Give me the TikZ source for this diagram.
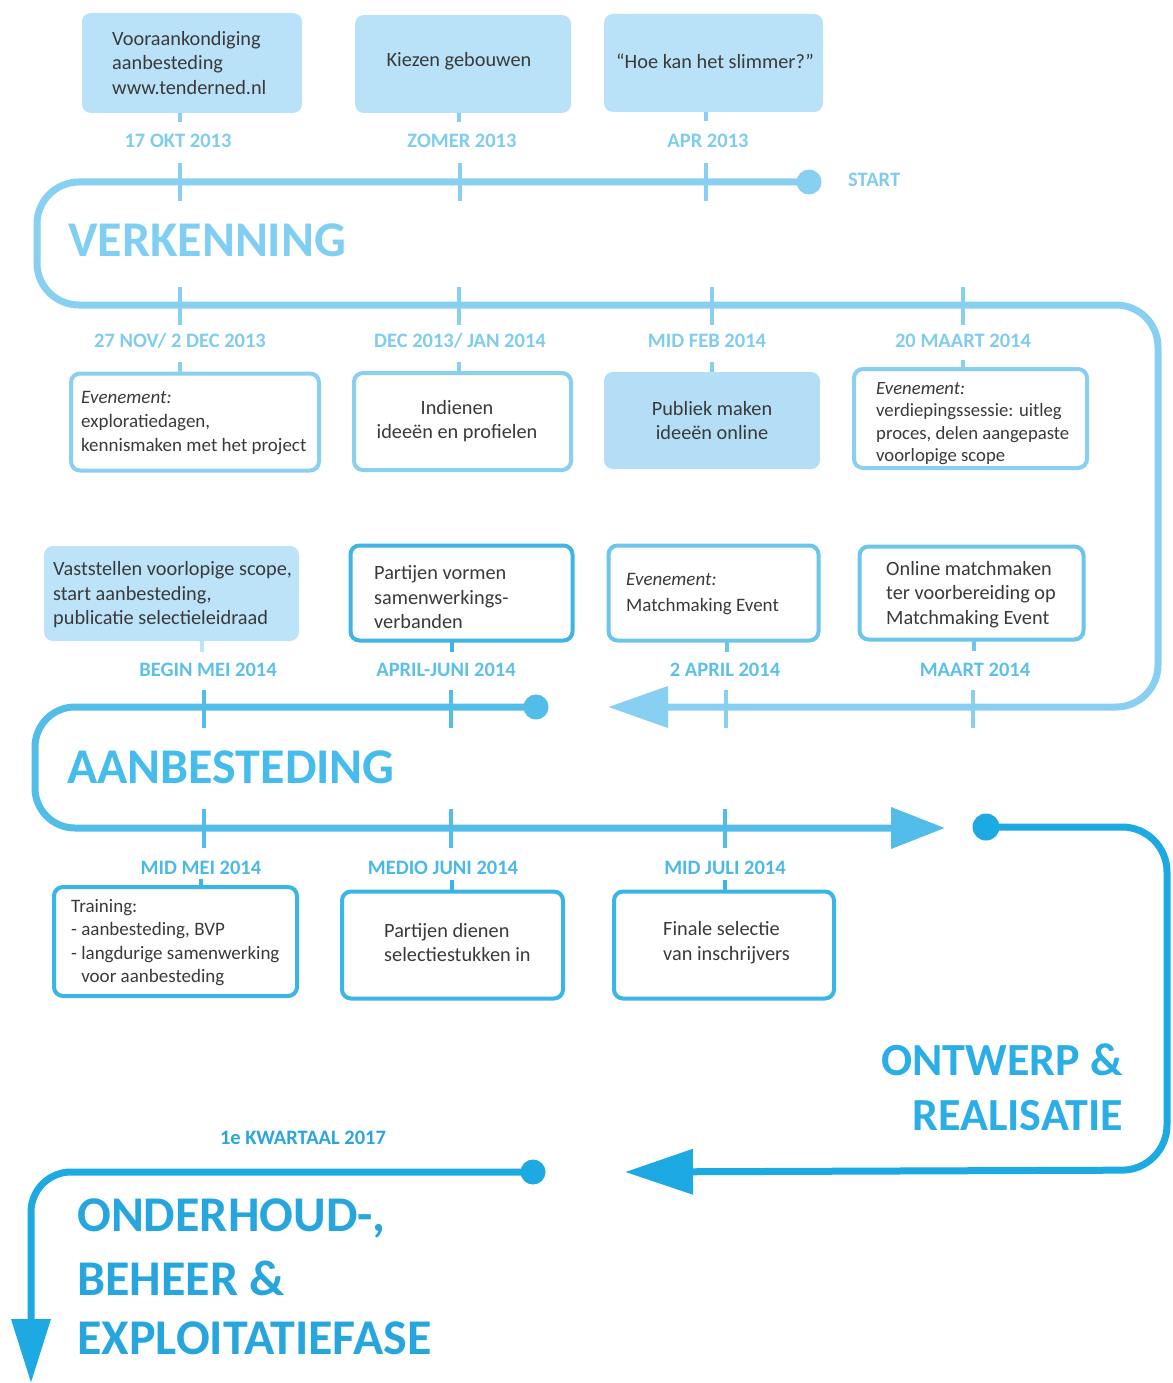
\documentclass[tikz,border=0pt]{standalone}
\usepackage{fontspec}
\setmainfont{Carlito}
\usetikzlibrary{arrows.meta}
\definecolor{txtc}{HTML}{3A3A3A}
\definecolor{fillA}{HTML}{B9E1F7}
\definecolor{fillB}{HTML}{B3DEF5}
\definecolor{fillC}{HTML}{BCE3F8}
\definecolor{lineA}{HTML}{88D0F1}
\definecolor{dateA}{HTML}{7FCCEF}
\definecolor{titleA}{HTML}{80CFF2}
\definecolor{boxB}{HTML}{8ACFEF}
\definecolor{boxC}{HTML}{6DC5EB}
\definecolor{boxD}{HTML}{3FB4E5}
\definecolor{dateC}{HTML}{5CC0EA}
\definecolor{lineB}{HTML}{52BDE9}
\definecolor{titleB}{HTML}{45BCEC}
\definecolor{boxE}{HTML}{3BB4E6}
\definecolor{dateD}{HTML}{4AB9E8}
\definecolor{lineC}{HTML}{1DA9E1}
\definecolor{titleC}{HTML}{2AAEE5}
\definecolor{dateE}{HTML}{2AA5DD}
\definecolor{titleD}{HTML}{27A6DE}
\tikzset{
  body/.style={font=\fontsize{20.3}{24.5}\selectfont, text=txtc, inner sep=0pt, align=left},
  bodym/.style={font=\fontsize{19}{24}\selectfont, text=txtc, inner sep=0pt, align=left},
  bodys/.style={font=\fontsize{18.7}{22.5}\selectfont, text=txtc, inner sep=0pt, align=left},
  datelbl/.style={font=\bfseries\fontsize{20.5}{22}\selectfont, inner sep=0pt, text=#1},
  phase/.style={font=\bfseries\fontsize{50}{60}\selectfont, inner sep=0pt, anchor=west, text=#1},
  fillbox/.style={rounded corners=9pt, inner sep=0pt, fill=#1},
  linebox/.style={rounded corners=9pt, inner sep=0pt, draw=#1, line width=4pt, fill=white},
  dotnode/.style={circle, fill=#1, inner sep=0pt, minimum size=25pt},
  tline/.style={line width=7pt, draw=#1, rounded corners=42pt},
  tickmark/.style={line width=4.5pt, draw=#1},
  stub/.style={line width=3.5pt, draw=#1},
}
\begin{document}
\begin{tikzpicture}[x=1pt,y=-1pt]
\useasboundingbox (0,0) rectangle (1172,1383);

% ---------- top boxes ----------
\node[fillbox=fillA, minimum width=220, minimum height=100] (b1) at (192,63) {};
\node[fillbox=fillA, minimum width=216, minimum height=98] (b2) at (463,64) {};
\node[fillbox=fillA, minimum width=219, minimum height=98] (b3) at (713.5,63) {};
\node[body, anchor=west] (t1) at (112,63) {Vooraankondiging\\aanbesteding\\www.tenderned.nl};
\node[body] (t2) at (459,61.5) {Kiezen gebouwen};
\node[body] (t3) at (715,61) {“Hoe kan het slimmer?”};

\node[datelbl=dateA] (l1) at (178,140.5) {17 OKT 2013};
\node[datelbl=dateA] (l2) at (462,140.5) {ZOMER 2013};
\node[datelbl=dateA] (l3) at (708,140.5) {APR 2013};
\draw[stub=lineA] (180,113) -- (180,122);
\draw[stub=lineA] (459,113) -- (459,122);
\draw[stub=lineA] (706,112) -- (706,121);

% ---------- verkenning loop ----------
\node[dotnode=lineA] (d1) at (809,182) {};
\node[datelbl=dateA, anchor=west] (lstart) at (848,179.5) {START};
\coordinate (v1) at (37,182);
\coordinate (v2) at (37,305);
\coordinate (v3) at (1158,305);
\coordinate (v4) at (1158,707);
\coordinate (v5) at (608,707);
\draw[tline=lineA, -{Triangle[length=60pt,width=40pt]}] (d1.center) -- (v1) -- (v2) -- (v3) -- (v4) -- (v5);
\foreach \x in {180,460,706} \draw[tickmark=lineA] (\x,163) -- (\x,201);
\foreach \x in {180,459,712,963} \draw[tickmark=lineA] (\x,287) -- (\x,325);
\foreach \x in {726,973} \draw[tickmark=lineA] (\x,690) -- (\x,728);
\node[phase=titleA] (ph1) at (68,240) {VERKENNING};

% ---------- row 2 ----------
\node[datelbl=dateA] (l4) at (180,340.5) {27 NOV/ 2 DEC 2013};
\node[datelbl=dateA] (l5) at (460,340.5) {DEC 2013/ JAN 2014};
\node[datelbl=dateA] (l6) at (707,340.5) {MID FEB 2014};
\node[datelbl=dateA] (l7) at (963,340.5) {20 MAART 2014};
\draw[stub=lineA] (180,362) -- (180,373);
\draw[stub=lineA] (459,362) -- (459,372);
\draw[stub=lineA] (712,362) -- (712,372);
\draw[stub=lineA] (963,360) -- (963,369);

\node[linebox=boxB, minimum width=248, minimum height=97] (b4) at (195,422) {};
\node[linebox=boxB, minimum width=217, minimum height=97] (b5) at (462.5,421.5) {};
\node[fillbox=fillB, minimum width=216, minimum height=97] (b6) at (712,420.5) {};
\node[linebox=boxB, minimum width=233, minimum height=99] (b7) at (970.5,418.5) {};
\node[bodym, anchor=west] (t4) at (81,423) {\textit{Evenement:}\\exploratiedagen,\\kennismaken met het project};
\node[body, align=center] (t5) at (457,421) {Indienen\\ideeën en profielen};
\node[body, align=center] (t6) at (712,420.5) {Publiek maken\\ideeën online};
\node[bodys, anchor=west] (t7) at (876,423.5) {\textit{Evenement:}\\verdiepingssessie: uitleg\\proces, delen aangepaste\\voorlopige scope};

% ---------- row 3 ----------
\node[fillbox=fillC, minimum width=255, minimum height=95] (b8) at (171.5,593.5) {};
\node[linebox=boxD, minimum width=222, minimum height=95] (b9) at (461.5,593) {};
\node[linebox=boxC, minimum width=210, minimum height=95] (b10) at (713.5,593) {};
\node[linebox=boxC, minimum width=224, minimum height=93] (b11) at (971.5,593) {};
\node[body, anchor=west] (t8) at (53,595) {Vaststellen voorlopige scope,\\start aanbesteding,\\publicatie selectieleidraad};
\node[body, anchor=west] (t9) at (374,597.5) {Partijen vormen\\samenwerkings-\\verbanden};
\node[bodym, font=\fontsize{19}{26}\selectfont, anchor=west] (t10) at (626,594) {\textit{Evenement:}\\Matchmaking Event};
\node[body, anchor=west] (t11) at (886,594.5) {Online matchmaken\\ter voorbereiding op\\Matchmaking Event};

\draw[stub=fillC] (202,641) -- (202,652);
\draw[stub=boxD] (452,641) -- (452,652);
\draw[stub=boxC] (727,641) -- (727,652);
\draw[stub=boxC] (974,640) -- (974,651);
\node[datelbl=dateC] (l8) at (208,669.5) {BEGIN MEI 2014};
\node[datelbl=dateC] (l9) at (446,669.5) {APRIL-JUNI 2014};
\node[datelbl=dateC] (l10) at (725,669.5) {2 APRIL 2014};
\node[datelbl=dateC] (l11) at (975,669.5) {MAART 2014};

% ---------- aanbesteding loop ----------
\node[dotnode=lineB] (d2) at (536,707) {};
\coordinate (a1) at (35,707);
\coordinate (a2) at (35,828);
\coordinate (a3) at (945,828);
\draw[tline=lineB, rounded corners=40pt, -{Triangle[length=54pt,width=40pt]}] (d2.center) -- (a1) -- (a2) -- (a3);
\foreach \x in {204,451} \draw[tickmark=lineB] (\x,690) -- (\x,728);
\foreach \x in {204,451,725} \draw[tickmark=lineB] (\x,809) -- (\x,848);
\node[phase=titleB] (ph2) at (67,767) {AANBESTEDING};

% ---------- row 4 ----------
\node[datelbl=dateD] (l12) at (201,867.5) {MID MEI 2014};
\node[datelbl=dateD] (l13) at (443,867.5) {MEDIO JUNI 2014};
\node[datelbl=dateD] (l14) at (725,867.5) {MID JULI 2014};
\draw[stub=boxE] (201,879) -- (201,889);
\draw[stub=boxE] (452,880) -- (452,892);
\draw[stub=boxE] (725,880) -- (725,892);
\node[linebox=boxE, minimum width=243, minimum height=109] (b12) at (175.5,941.5) {};
\node[linebox=boxE, minimum width=221, minimum height=107] (b13) at (452.5,945) {};
\node[linebox=boxE, minimum width=220, minimum height=107] (b14) at (724,945) {};
\node[bodym, font=\fontsize{19}{23.3}\selectfont, anchor=west] (t12) at (71,942.5) {Training:\\- aanbesteding, BVP\\- langdurige samenwerking\\\phantom{-} voor aanbesteding};
\node[body, anchor=west] (t13) at (384,942.5) {Partijen dienen\\selectiestukken in};
\node[body, anchor=west] (t14) at (663,942.5) {Finale selectie\\van inschrijvers};

% ---------- ontwerp & realisatie ----------
\node[dotnode=lineC, minimum size=27pt] (d3) at (986,827) {};
\coordinate (o1) at (1167,827);
\coordinate (o2) at (1167,1170);
\coordinate (o3) at (625,1172);
\draw[tline=lineC, rounded corners=45pt, -{Triangle[length=68pt,width=44pt]}] (d3.center) -- (o1) -- (o2) -- (o3);
\node[phase=titleC, anchor=east, font=\bfseries\fontsize{46}{56}\selectfont] (ph3a) at (1123,1060) {ONTWERP \&};
\node[phase=titleC, anchor=east, font=\bfseries\fontsize{46}{56}\selectfont] (ph3b) at (1123,1116) {REALISATIE};

% ---------- onderhoud ----------
\node[datelbl=dateE] (l15) at (303,1137.5) {1e KWARTAAL 2017};
\node[dotnode=lineC] (d4) at (533,1172) {};
\coordinate (e1) at (31,1172);
\coordinate (e2) at (31,1383);
\draw[tline=lineC, rounded corners=40pt, -{Triangle[length=64pt,width=38pt]}] (d4.center) -- (e1) -- (e2);
\node[phase=titleD] (ph4a) at (77,1218) {ONDERHOUD-,};
\node[phase=titleD] (ph4b) at (77,1278) {BEHEER \&};
\node[phase=titleD] (ph4c) at (77,1338) {EXPLOITATIEFASE};
\end{tikzpicture}
\end{document}
